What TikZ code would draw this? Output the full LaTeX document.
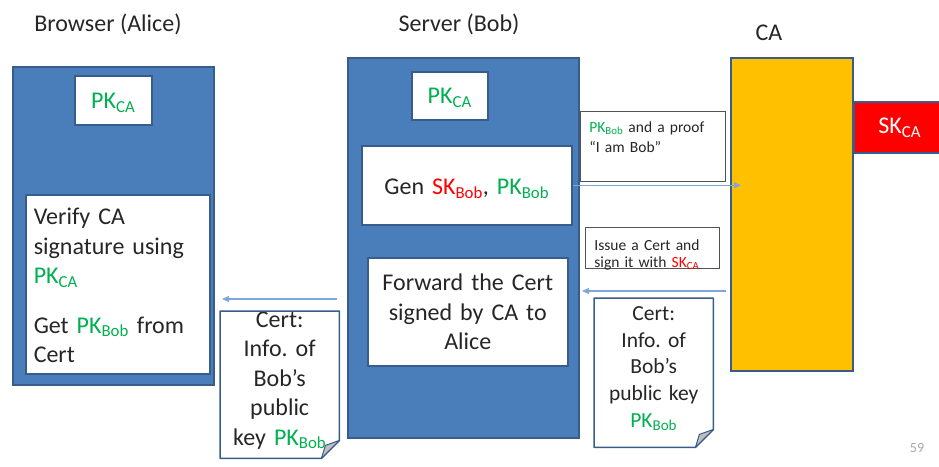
\documentclass[tikz,border=0pt]{standalone}
\usepackage{fontspec}
\setmainfont{Carlito}
\usetikzlibrary{arrows.meta, positioning, calc}
\definecolor{boxblue}{HTML}{4A7EBB}
\definecolor{edgeblue}{HTML}{385D8A}
\definecolor{caorange}{HTML}{FFC000}
\definecolor{keygreen}{HTML}{00B050}
\definecolor{keyred}{HTML}{FF0000}
\definecolor{msgblue}{HTML}{7EA6DA}
\definecolor{inkgray}{HTML}{262626}
\definecolor{foldgray}{HTML}{BFBFBF}
\frenchspacing

\newcommand{\pubkey}[1]{\textcolor{keygreen}{PK\textsubscript{#1}}}
\newcommand{\seckey}[1]{\textcolor{keyred}{SK\textsubscript{#1}}}

\begin{document}
\begin{tikzpicture}[x=1pt, y=-1pt,
    party/.style={draw=edgeblue, line width=2pt, fill=boxblue, anchor=north west, inner sep=0pt},
    inbox/.style={draw=edgeblue, line width=1.5pt, fill=white, text=inkgray, anchor=north west,
        inner ysep=0pt, font=\fontsize{24}{29.5}\selectfont},
    note/.style={draw=gray!65!black, line width=0.8pt, fill=white, text=inkgray, anchor=north west,
        align=left, inner ysep=0pt, inner xsep=9pt},
    paper/.style={anchor=north west, inner sep=0pt, text=inkgray, align=center},
    msg/.style={draw=msgblue, line width=1.3pt, -{Triangle[length=7pt,width=6pt]}},
    title/.style={text=inkgray, anchor=base, font=\fontsize{24}{29}\selectfont}
]
\useasboundingbox (0,0) rectangle (939,466);

% titles
\node[title] (talice) at (108,31) {Browser (Alice)};
\node[title] (tbob) at (459,31) {Server (Bob)};
\node[title] (tca) at (769,40) {CA};

% Alice
\node[party, minimum width=201, minimum height=318] (alice) at (12,66) {};
\node[inbox, minimum width=77, text height=33, text depth=16, inner xsep=0pt, text width=77, align=center] (apk) at (74,75) {\pubkey{CA}};
\node[inbox, text width=168, text height=30, text depth=149, inner xsep=8pt, align=left] (verify) at (25,194)
    {Verify CA\\signature using\\\pubkey{CA}\\[20pt]Get \pubkey{Bob} from\\Cert};

% Bob
\node[party, minimum width=231, minimum height=380] (server) at (347,57) {};
\node[inbox, text height=32, text depth=16, inner xsep=0pt, text width=76, align=center] (spk) at (411,71) {\pubkey{CA}};
\node[inbox, text height=49, text depth=30, inner xsep=0pt, text width=210, align=center] (gen) at (361,145)
    {Gen \seckey{Bob}, \pubkey{Bob}};
\node[inbox, text height=33, text depth=75, inner xsep=0pt, text width=200, align=center] (forward) at (367,257)
    {Forward the Cert\\signed by CA to\\Alice};

% CA
\node[draw=edgeblue, line width=1.5pt, fill=caorange, anchor=north west, minimum width=122, minimum height=313] (ca) at (730,57) {};
\node[draw=edgeblue, line width=1.5pt, fill=keyred, text=white, anchor=north west, inner ysep=0pt, inner xsep=0pt,
    text width=92, align=center, text height=32, text depth=19, font=\fontsize{24}{29}\selectfont] (casecret) at (853,101)
    {SK\textsubscript{CA}};

% notes on the messages
\node[note, text width=127, text height=21, text depth=49, font=\fontsize{15.5}{20}\selectfont] (proof) at (580,111)
    {\pubkey{Bob} and a proof\\``I am Bob''};
\node[note, text width=116, text height=23, text depth=18, font=\fontsize{15.5}{17}\selectfont] (issue) at (585,227)
    {Issue a Cert and\\sign it with \seckey{CA}};

% certificates
\node[paper, text width=119, text height=16, text depth=131, font=\fontsize{24}{29.5}\selectfont] (certa) at (220,311)
    {Cert:\\Info. of\\Bob's\\public\\key \pubkey{Bob}};
\node[paper, text width=119, text height=22, text depth=127, font=\fontsize{21.5}{26.8}\selectfont] (certb) at (594,298)
    {Cert:\\Info. of\\Bob's\\public key\\\pubkey{Bob}};
\foreach \c in {certa, certb} {
    \draw[draw=edgeblue, line width=1.5pt, line join=round]
        (\c.north west) -- (\c.north east) -- ([yshift=18pt]\c.south east)
        -- ([xshift=-18pt]\c.south east) -- (\c.south west) -- cycle;
    \draw[draw=edgeblue, line width=1pt, fill=foldgray, line join=round]
        ([yshift=18pt]\c.south east) -- ([xshift=-14pt,yshift=13pt]\c.south east)
        -- ([xshift=-18pt]\c.south east) -- cycle;
}

% messages
\coordinate (gotca) at ([xshift=11pt]gen.east -| ca.west);
\draw[msg] (gen.east) -- (gotca);
\coordinate (fromca) at ([xshift=-4pt,yshift=7pt]ca.west |- certb.north);
\coordinate (tobob) at ([xshift=-12pt]certb.north west |- fromca);
\draw[msg] (fromca) -- (tobob);
\coordinate (frombob) at ([xshift=-10pt,yshift=12pt]server.west |- certa.north);
\coordinate (toalice) at ([xshift=7pt]alice.east |- frombob);
\draw[msg] (frombob) -- (toalice);

% page number
\node[text=gray!70, anchor=base, font=\fontsize{14}{16}\selectfont] (page) at (917,452) {59};
\end{tikzpicture}
\end{document}
